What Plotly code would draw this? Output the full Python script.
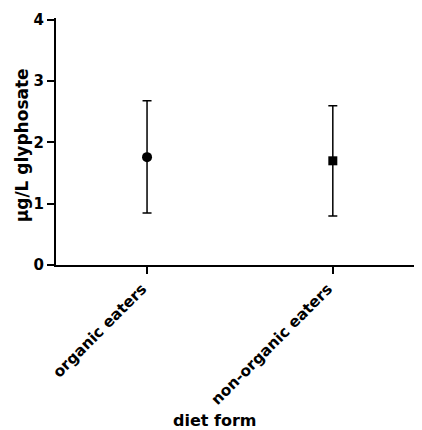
import plotly.graph_objects as go

categories = ["organic eaters", "non-organic eaters"]
means = [1.76, 1.70]
upper = [2.68, 2.60]
lower = [0.85, 0.80]
symbols = ["circle", "square"]
y_ticks = [0, 1, 2, 3, 4]

FONT = "DejaVu Sans"

fig = go.Figure()
for i, cat in enumerate(categories):
    fig.add_trace(go.Scatter(
        x=[i], y=[means[i]], mode="markers",
        marker=dict(symbol=symbols[i], size=10 if symbols[i] == "circle" else 9, color="black"),
        error_y=dict(type="data", symmetric=False,
                     array=[upper[i] - means[i]], arrayminus=[means[i] - lower[i]],
                     color="black", thickness=1.5, width=4.5),
        showlegend=False,
    ))

# page body has an 8px margin, so the figure is sized to fit the window
fig.update_layout(
    width=414, height=422,
    margin=dict(l=48, r=0, t=10, b=165),
    plot_bgcolor="white", paper_bgcolor="white",
    xaxis=dict(
        range=[-0.49, 1.48], tickmode="array", tickvals=[0, 1], ticktext=categories,
        tickangle=-45, ticks="outside", ticklen=7, tickwidth=1.5, tickcolor="black",
        showline=True, linecolor="black", linewidth=2, showgrid=False, zeroline=False,
        ticklabelshift=-5, ticklabelstandoff=0,
        tickfont=dict(family=FONT, size=15.3, color="black", weight="bold"),
    ),
    yaxis=dict(
        range=[0, 4.03], tickmode="array", tickvals=y_ticks, ticktext=[str(t) for t in y_ticks],
        ticks="outside", ticklen=7, tickwidth=1.5, tickcolor="black",
        showline=True, linecolor="black", linewidth=2, showgrid=False, zeroline=False,
        tickfont=dict(family=FONT, size=15, color="black", weight="bold"),
    ),
    annotations=[
        dict(text="diet form", xref="paper", yref="paper", x=0.434, y=-0.628,
             showarrow=False, xanchor="center", yanchor="middle",
             font=dict(family=FONT, size=16, color="black", weight="bold")),
        dict(text="µg/L glyphosate", xref="paper", yref="paper", x=-0.092, y=0.486,
             showarrow=False, xanchor="center", yanchor="middle", textangle=-90,
             font=dict(family=FONT, size=17, color="black", weight="bold")),
    ],
)

fig.write_html("out.html")
